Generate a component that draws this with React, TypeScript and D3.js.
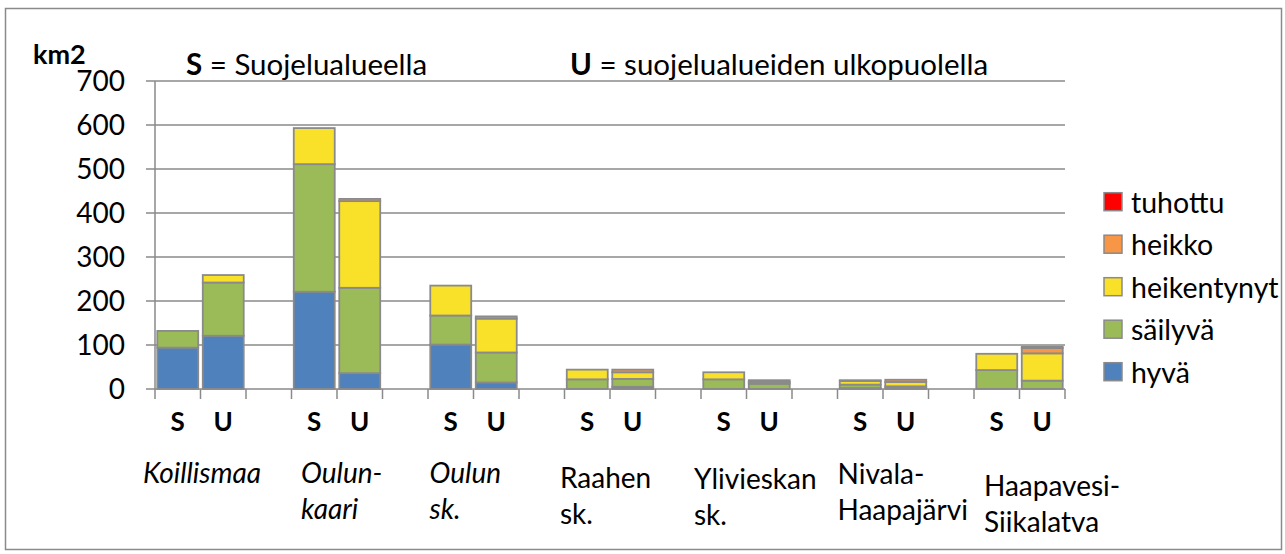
import React from "react";
import * as d3 from "d3";

// ---- data ----
const groups = ["Koillismaa", "Oulunkaari", "Oulun sk.", "Raahen sk.", "Ylivieskan sk.", "Nivala-Haapajärvi", "Haapavesi-Siikalatva"];
const groupLabelLines = [["Koillismaa"], ["Oulun-", "kaari"], ["Oulun", "sk."], ["Raahen", "sk."], ["Ylivieskan", "sk."], ["Nivala-", "Haapajärvi"], ["Haapavesi-", "Siikalatva"]];
const groupItalic = [true, true, true, false, false, false, false];
const barTypes = ["S", "U"];
// 14 bars: for each group S then U
const hyva = [94, 121, 221, 36, 101, 15, 0, 5, 0, 0, 2, 2, 0, 0];
const sailyva = [38, 121, 290, 194, 66, 68, 22, 18, 22, 12, 8, 4, 43, 19];
const heikentynyt = [0, 17, 82, 197, 68, 77, 22, 15, 16, 4, 8, 10, 37, 62];
const heikko = [0, 0, 0, 5, 0, 5, 0, 6, 0, 4, 2, 5, 0, 12];
const tuhottu = [0, 0, 0, 0, 0, 0, 0, 0, 0, 0, 0, 0, 0, 3];
const seriesNames = ["hyvä", "säilyvä", "heikentynyt", "heikko", "tuhottu"];
const seriesColors = ["#4F81BD", "#9BBB59", "#F9E12A", "#F79646", "#FF0000"];
const yTicks = [0, 100, 200, 300, 400, 500, 600, 700];
const yUnit = "km2";
const noteS = ["S", " = Suojelualueella"];
const noteU = ["U", " = suojelualueiden ulkopuolella"];

// ---- layout (not data) ----
const W = 1285, H = 554;
const M = { left: 155, right: 1065, top: 81, bottom: 389 };
const labelDx = [-12, 9.5, 1.5, -4.5, -7, 0, 10];
const labelY = [472, 472, 472, 477, 478, 473, 485];
const lineGap = 36;
const FONT = "Lato, 'Open Sans', sans-serif";
const GRID = "#8a8a8a";

export default function App() {
  const slots: string[] = [];
  groups.forEach((g, i) => {
    barTypes.forEach((t) => slots.push(`${i}${t}`));
    if (i < groups.length - 1) slots.push(`${i}gap`);
  });
  const x = d3.scaleBand<string>().domain(slots).range([M.left, M.right]).paddingInner(0.1).paddingOuter(0.05);
  const y = d3.scaleLinear().domain([0, 700]).range([M.bottom, M.top]);
  const step = x.step();

  const table = hyva.map((_, i) => ({
    key: `${Math.floor(i / 2)}${barTypes[i % 2]}`,
    "hyvä": hyva[i],
    "säilyvä": sailyva[i],
    "heikentynyt": heikentynyt[i],
    "heikko": heikko[i],
    "tuhottu": tuhottu[i],
  }));
  const stacked = d3.stack<any>().keys(seriesNames)(table);

  const boundaries = d3.range(slots.length + 1).map((k) => M.left + k * step);

  return (
    <svg width={W} height={H} style={{ position: "absolute", left: 0, top: 0, fontFamily: FONT }}>
      <rect x={0} y={0} width={W} height={H} fill="#fff" />
      <rect x={5.5} y={8.5} width={1276} height={541} fill="none" stroke={GRID} strokeWidth={1.5} />
      {/* gridlines */}
      {yTicks.map((t) => (
        <g key={t}>
          {t > 0 && <line x1={M.left} x2={M.right} y1={y(t)} y2={y(t)} stroke={GRID} strokeWidth={1.5} />}
          <line x1={M.left - 9} x2={M.left} y1={y(t)} y2={y(t)} stroke={GRID} strokeWidth={1.5} />
          <text x={125} y={y(t) - 1} textAnchor="end" dominantBaseline="central" fontSize={28} fill="#000">{t}</text>
        </g>
      ))}
      {/* bars */}
      {stacked.map((s, si) => (
        <g key={s.key} fill={seriesColors[si]}>
          {s.map((d, i) => {
            const h = y(d[0]) - y(d[1]);
            if (h <= 0) return null;
            return (
              <rect key={i} x={x(table[i].key)} y={y(d[1])} width={x.bandwidth()} height={h} stroke={GRID} strokeWidth={1.8} />
            );
          })}
        </g>
      ))}
      {/* axes */}
      <line x1={M.left} x2={M.left} y1={M.top} y2={M.bottom} stroke={GRID} strokeWidth={1.5} />
      <line x1={M.left} x2={M.right} y1={M.bottom} y2={M.bottom} stroke={GRID} strokeWidth={1.5} />
      {boundaries.map((bx, k) => (
        <line key={k} x1={bx} x2={bx} y1={M.bottom} y2={M.bottom + 10} stroke={GRID} strokeWidth={1.5} />
      ))}
      {/* S / U labels */}
      {table.map((d, i) => (
        <text key={i} x={(x(d.key) as number) + x.bandwidth() / 2} y={421} textAnchor="middle" dominantBaseline="central" fontSize={26} fontWeight="bold" fill="#000">
          {barTypes[i % 2]}
        </text>
      ))}
      {/* group labels */}
      {groupLabelLines.map((lines, gi) => (
        <text key={gi} fontSize={28} fill="#000" fontStyle={groupItalic[gi] ? "italic" : "normal"}>
          {lines.map((ln, li) => (
            <tspan key={li} x={(x(`${gi}S`) as number) - x.step() * 0.05 + labelDx[gi]} y={labelY[gi] + li * lineGap} dominantBaseline="central">{ln}</tspan>
          ))}
        </text>
      ))}
      {/* unit and notes */}
      <text x={33} y={64} fontSize={27} fontWeight="bold" fill="#000">{yUnit}</text>
      <text x={186} y={75} fontSize={29.5} fill="#000">
        <tspan fontWeight="bold">{noteS[0]}</tspan>
        <tspan>{noteS[1]}</tspan>
      </text>
      <text x={570} y={75} fontSize={29.5} fill="#000">
        <tspan fontWeight="bold">{noteU[0]}</tspan>
        <tspan>{noteU[1]}</tspan>
      </text>
      {/* legend */}
      {seriesNames.slice().reverse().map((name, k) => {
        const si = seriesNames.length - 1 - k;
        const cy = 201.7 + k * 42.5;
        return (
          <g key={name}>
            <rect x={1104} y={cy - 9} width={18} height={18} fill={seriesColors[si]} stroke={GRID} strokeWidth={1.5} />
            <text x={1131} y={cy} dominantBaseline="central" fontSize={28.5} fill="#000">{name}</text>
          </g>
        );
      })}
    </svg>
  );
}
